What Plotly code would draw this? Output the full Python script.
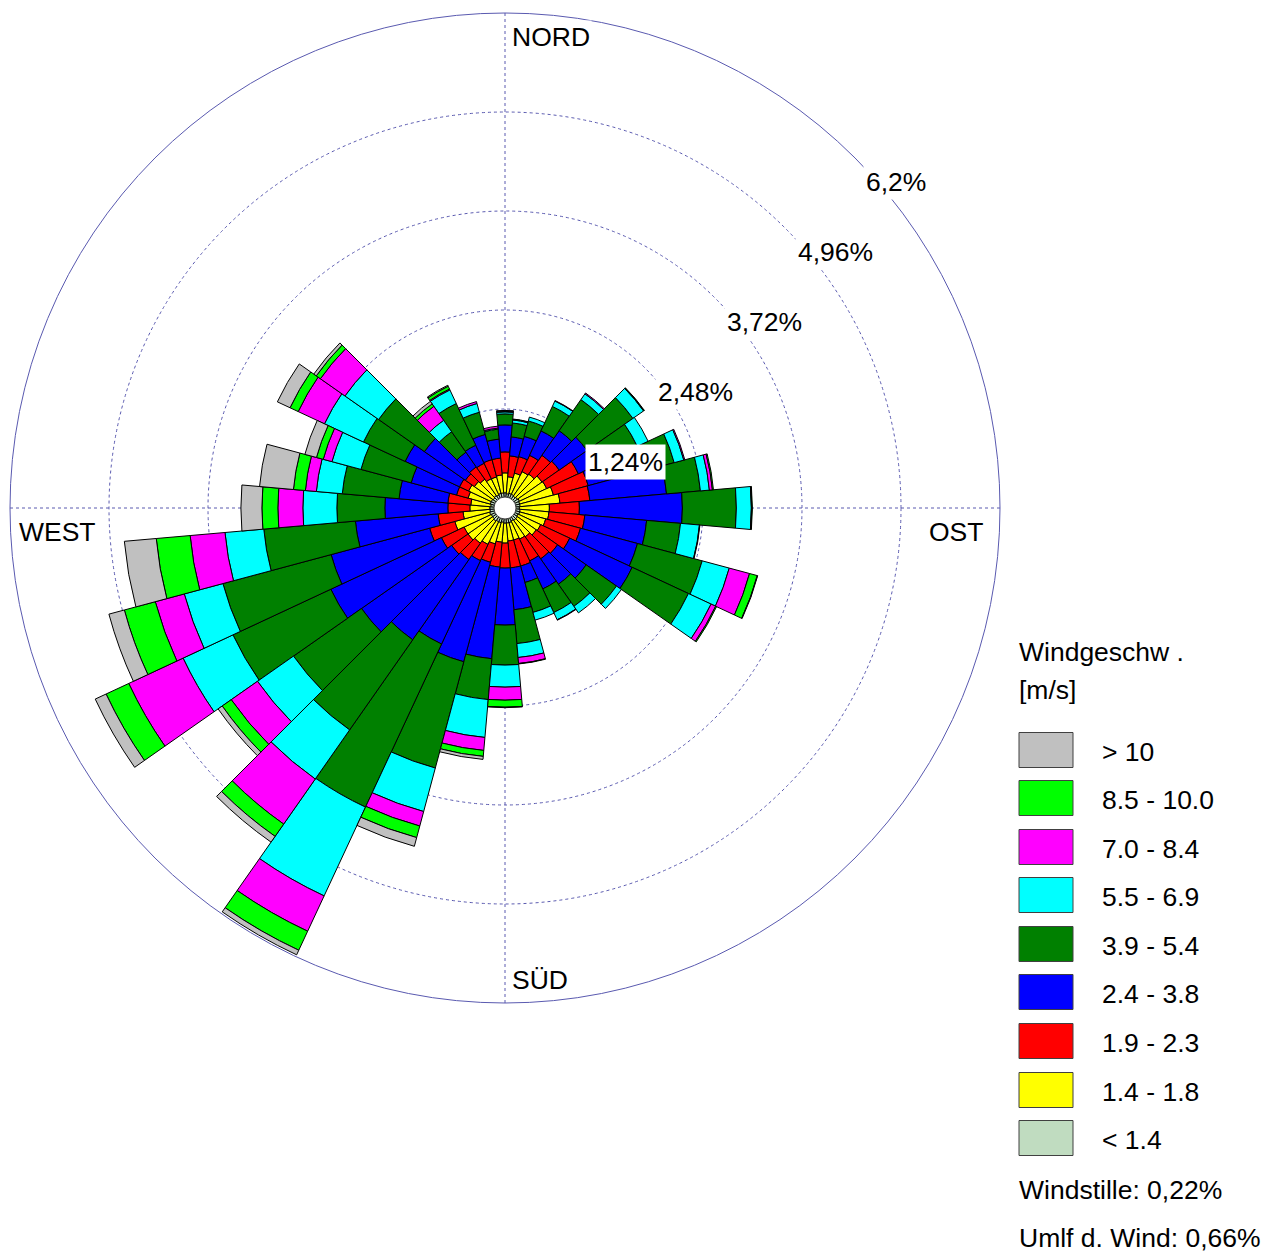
import plotly.graph_objects as go

W, H = 1265, 1252

# ---------------- data (percent of time per 10° sector) ----------------
directions = list(range(0, 360, 10))

classes = ["< 1.4", "1.4 - 1.8", "1.9 - 2.3", "2.4 - 3.8", "3.9 - 5.4",
           "5.5 - 6.9", "7.0 - 8.4", "8.5 - 10.0", "> 10"]
colors = ["#C0DCC0", "#FFFF00", "#FF0000", "#0000FF", "#008000",
          "#00FFFF", "#FF00FF", "#00FF00", "#C0C0C0"]

v_lt14 = [0.19, 0.18, 0.19, 0.19, 0.18, 0.19, 0.20, 0.19, 0.19, 0.18, 0.19, 0.19,
          0.18, 0.19, 0.19, 0.18, 0.19, 0.19, 0.19, 0.18, 0.19, 0.19, 0.20, 0.19,
          0.19, 0.20, 0.19, 0.19, 0.18, 0.19, 0.19, 0.18, 0.19, 0.18, 0.19, 0.19]
v_14_18 = [0.250, 0.213, 0.263, 0.313, 0.338, 0.376, 0.376, 0.438, 0.501, 0.376, 0.363, 0.338,
           0.313, 0.288, 0.250, 0.250, 0.225, 0.225, 0.250, 0.250, 0.276, 0.313, 0.338, 0.376,
           0.376, 0.451, 0.338, 0.250, 0.250, 0.288, 0.313, 0.288, 0.250, 0.225, 0.213, 0.225]
v_19_23 = [0.263, 0.263, 0.213, 0.225, 0.288, 0.263, 0.438, 0.451, 0.376, 0.376, 0.451, 0.451,
           0.401, 0.326, 0.338, 0.301, 0.338, 0.338, 0.313, 0.313, 0.238, 0.225, 0.250, 0.250,
           0.313, 0.326, 0.313, 0.276, 0.288, 0.150, 0.125, 0.138, 0.188, 0.213, 0.225, 0.213]
v_24_38 = [0.338, 0.238, 0.263, 0.338, 0.376, 0.426, 0.376, 0.752, 0.964, 1.290, 0.777, 0.739,
           0.864, 0.438, 0.388, 0.388, 0.213, 0.526, 0.714, 1.152, 1.290, 1.152, 1.227, 1.378,
           1.528, 1.278, 1.040, 0.789, 0.614, 0.589, 0.752, 0.626, 0.225, 0.250, 0.326, 0.238]
v_39_54 = [0.138, 0.175, 0.200, 0.338, 0.476, 0.701, 0.438, 0.363, 0.426, 0.676, 0.426, 0.839,
           0.777, 0.463, 0.338, 0.326, 0.388, 0.426, 0.501, 0.514, 1.378, 2.254, 1.378, 1.040,
           1.353, 1.403, 1.152, 0.601, 0.714, 0.651, 0.576, 0.701, 0.313, 0.576, 0.288, 0.125]
v_55_69 = [0.025, 0.038, 0.050, 0.075, 0.088, 0.163, 0.150, 0.125, 0.113, 0.188, 0.238, 0.351,
           0.313, 0.075, 0.100, 0.100, 0.100, 0.175, 0.276, 0.476, 0.564, 1.227, 0.751, 0.551,
           0.689, 0.501, 0.488, 0.426, 0.326, 0.376, 0.539, 0.514, 0.175, 0.188, 0.113, 0.013]
v_70_84 = [0.006, 0.006, 0.000, 0.006, 0.013, 0.006, 0.000, 0.013, 0.038, 0.006, 0.006, 0.263,
           0.063, 0.000, 0.000, 0.006, 0.000, 0.075, 0.163, 0.163, 0.188, 0.488, 0.689, 0.401,
           0.751, 0.376, 0.438, 0.313, 0.138, 0.113, 0.363, 0.376, 0.213, 0.013, 0.025, 0.025]
v_85_100 = [0.006, 0.006, 0.000, 0.000, 0.000, 0.006, 0.000, 0.000, 0.013, 0.006, 0.000, 0.100,
            0.013, 0.000, 0.000, 0.000, 0.000, 0.006, 0.088, 0.075, 0.150, 0.263, 0.188, 0.138,
            0.313, 0.401, 0.426, 0.200, 0.150, 0.088, 0.113, 0.063, 0.038, 0.038, 0.000, 0.000]
v_gt10 = [0.006, 0.000, 0.000, 0.000, 0.000, 0.000, 0.000, 0.000, 0.000, 0.000, 0.000, 0.006,
          0.000, 0.000, 0.000, 0.000, 0.000, 0.000, 0.006, 0.038, 0.113, 0.063, 0.088, 0.063,
          0.150, 0.200, 0.401, 0.263, 0.426, 0.150, 0.175, 0.038, 0.038, 0.013, 0.000, 0.000]

series = [v_lt14, v_14_18, v_19_23, v_24_38, v_39_54, v_55_69, v_70_84, v_85_100, v_gt10]

ring_ticks = [1.24, 2.48, 3.72, 4.96, 6.2]
ring_labels = ["1,24%", "2,48%", "3,72%", "4,96%", "6,2%"]
calm_text = "Windstille: 0,22%"
variable_text = "Umlf d. Wind: 0,66%"

# ---------------- figure ----------------
FONT = "Liberation Sans, Arial, sans-serif"
FS = 26.5
GRID = "#5A5AB0"

fig = go.Figure()
for name, vals, col in zip(classes, series, colors):
    fig.add_trace(go.Barpolar(
        r=vals, theta=directions, width=[10] * len(directions), name=name,
        marker=dict(color=col, line=dict(color="black", width=1)),
        showlegend=False, hoverinfo="skip"))

# calm circle at the centre
fig.add_trace(go.Scatterpolar(
    r=[0], theta=[0], mode="markers", showlegend=False, hoverinfo="skip",
    marker=dict(size=22, color="white", line=dict(color="#404040", width=1))))


def px(x):
    return x / W


def py(y):
    return 1 - y / H


fig.update_layout(
    width=W, height=H,
    margin=dict(l=0, r=0, t=0, b=0),
    paper_bgcolor="white",
    plot_bgcolor="white",
    font=dict(family=FONT, size=FS, color="black"),
    polar=dict(
        domain=dict(x=[px(10), px(1000)], y=[py(1003), py(13)]),
        bgcolor="white",
        barmode="stack",
        radialaxis=dict(range=[0, ring_ticks[-1]], tickvals=ring_ticks[:-1],
                        showticklabels=False, ticks="", showline=False,
                        gridcolor=GRID, gridwidth=1, griddash="dot"),
        angularaxis=dict(direction="clockwise", rotation=90,
                         tickvals=[0, 90, 180, 270], showticklabels=False, ticks="",
                         gridcolor=GRID, gridwidth=1, griddash="dot",
                         showline=True, linecolor=GRID, linewidth=1),
    ),
)

annotations = []
# compass labels
for txt, x, y in [("NORD", 510, 37), ("OST", 927, 532), ("SÜD", 510, 980), ("WEST", 17, 532)]:
    annotations.append(dict(text=txt, x=px(x), y=py(y), xref="paper", yref="paper",
                            xanchor="left", yanchor="middle", showarrow=False,
                            bgcolor="white", font=dict(size=FS)))
# ring labels
ring_pos = [(625, 462), (695, 392), (765, 322), (835, 252), (896, 182)]
for txt, (x, y) in zip(ring_labels, ring_pos):
    annotations.append(dict(text=txt, x=px(x), y=py(y), xref="paper", yref="paper",
                            xanchor="center", yanchor="middle", showarrow=False,
                            bgcolor="white", borderpad=2, font=dict(size=FS)))

# legend (drawn manually to get large swatches)
LX = 1017
annotations.append(dict(text="Windgeschw .", x=px(LX), y=py(652), xref="paper", yref="paper",
                        xanchor="left", yanchor="middle", showarrow=False, font=dict(size=FS)))
annotations.append(dict(text="[m/s]", x=px(LX), y=py(690), xref="paper", yref="paper",
                        xanchor="left", yanchor="middle", showarrow=False, font=dict(size=FS)))
shapes = []
row_y = [750, 798, 847, 895, 944, 992, 1041, 1090, 1138]
for i, (name, col) in enumerate(zip(classes[::-1], colors[::-1])):
    cy = row_y[i]
    shapes.append(dict(type="rect", xref="paper", yref="paper",
                       x0=px(1019), x1=px(1073), y0=py(cy + 17.5), y1=py(cy - 17.5),
                       fillcolor=col, line=dict(color="#404040", width=1)))
    annotations.append(dict(text=name, x=px(1100), y=py(cy + 2), xref="paper", yref="paper",
                            xanchor="left", yanchor="middle", showarrow=False,
                            font=dict(size=FS)))
annotations.append(dict(text=calm_text, x=px(LX), y=py(1190), xref="paper", yref="paper",
                        xanchor="left", yanchor="middle", showarrow=False, font=dict(size=FS)))
annotations.append(dict(text=variable_text, x=px(LX), y=py(1238), xref="paper", yref="paper",
                        xanchor="left", yanchor="middle", showarrow=False, font=dict(size=FS)))

fig.update_layout(annotations=annotations, shapes=shapes)

fig.write_html(
    "out.html",
    config={"displayModeBar": False},
    post_script="document.body.style.margin='0px';document.body.style.padding='0px';"
                "document.body.style.overflow='hidden';",
)
